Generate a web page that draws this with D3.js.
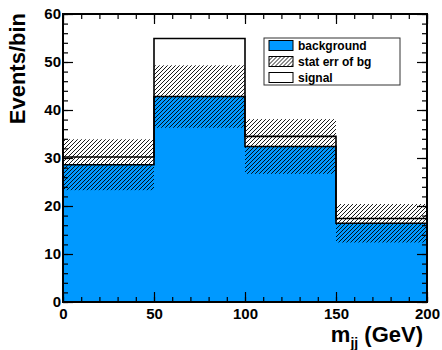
<!DOCTYPE html>
<html>
<head>
<meta charset="utf-8">
<script src="https://cdn.jsdelivr.net/npm/d3@7"></script>
<style>
  body { margin: 0; background: #fff; }
  svg { font-family: "Liberation Sans", Arial, sans-serif; font-weight: bold; }
</style>
</head>
<body>
<script>
var binEdges = [0, 50, 100, 150, 200];
var background = [28.6, 42.8, 32.4, 16.4];
var signal = [1.6, 12.1, 2.1, 1.0];
var bgError = [5.3, 6.5, 5.7, 4.0];
var legendLabels = ["background", "stat err of bg", "signal"];

var W = 442, H = 350;
var margin = {left: 63, right: 15, top: 14, bottom: 48};
var width = W - margin.left - margin.right;
var height = H - margin.top - margin.bottom;
var blue = "#0099ff";

var svg = d3.select("body").append("svg")
    .attr("width", W).attr("height", H);

// hatch pattern, lines like "/"
var defs = svg.append("defs");
defs.append("pattern")
    .attr("id", "hatch")
    .attr("patternUnits", "userSpaceOnUse")
    .attr("width", 4).attr("height", 4)
  .append("path")
    .attr("d", "M-1,1 l2,-2 M0,4 l4,-4 M3,5 l2,-2")
    .attr("stroke", "#000")
    .attr("stroke-width", 0.9);

var g = svg.append("g")
    .attr("transform", "translate(" + margin.left + "," + margin.top + ")");

var x = d3.scaleLinear().domain([0, 200]).range([0, width]);
var y = d3.scaleLinear().domain([0, 60]).range([height, 0]);

var bins = background.map(function(b, i) {
    return {x0: binEdges[i], x1: binEdges[i + 1], bg: b, sig: signal[i], err: bgError[i]};
});

// background fill
g.selectAll("rect.bg").data(bins).enter().append("rect")
    .attr("class", "bg")
    .attr("x", function(d) { return x(d.x0); })
    .attr("width", function(d) { return x(d.x1) - x(d.x0); })
    .attr("y", function(d) { return y(d.bg); })
    .attr("height", function(d) { return y(0) - y(d.bg); })
    .attr("fill", blue);

// stat error band
g.selectAll("rect.err").data(bins).enter().append("rect")
    .attr("class", "err")
    .attr("x", function(d) { return x(d.x0); })
    .attr("width", function(d) { return x(d.x1) - x(d.x0); })
    .attr("y", function(d) { return y(d.bg + d.err); })
    .attr("height", function(d) { return y(d.bg - d.err) - y(d.bg + d.err); })
    .attr("fill", "url(#hatch)");

// step outlines
function steps(val) {
    var pts = [[x(binEdges[0]), y(0)]];
    bins.forEach(function(d) {
        pts.push([x(d.x0), y(val(d))]);
        pts.push([x(d.x1), y(val(d))]);
    });
    pts.push([x(binEdges[binEdges.length - 1]), y(0)]);
    return d3.line()(pts);
}
g.append("path")
    .attr("d", steps(function(d) { return d.bg + d.sig; }))
    .attr("fill", "none").attr("stroke", "#000").attr("stroke-width", 1.6);
g.append("path")
    .attr("d", steps(function(d) { return d.bg; }))
    .attr("fill", "none").attr("stroke", "#000").attr("stroke-width", 1.6);

// axes, ROOT style ticks pointing inward
var yMinor = d3.range(0, 61, 2), yMajor = d3.range(0, 61, 10);
var xMinor = d3.range(0, 201, 10), xMajor = d3.range(0, 201, 50);

function styleAxis(sel) {
    sel.select(".domain").remove();
    sel.selectAll("line").attr("stroke", "#000").attr("stroke-width", 1.2);
    sel.selectAll("text").attr("font-size", 15).attr("font-weight", "bold").attr("fill", "#000");
}

g.append("g").call(d3.axisLeft(y).tickValues(yMinor).tickSize(-5).tickFormat("")).call(styleAxis);
g.append("g").call(d3.axisLeft(y).tickValues(yMajor).tickSize(-10).tickPadding(2)).call(styleAxis);
g.append("g").attr("transform", "translate(" + width + ",0)")
    .call(d3.axisRight(y).tickValues(yMinor).tickSize(-5).tickFormat("")).call(styleAxis);
g.append("g").attr("transform", "translate(" + width + ",0)")
    .call(d3.axisRight(y).tickValues(yMajor).tickSize(-10).tickFormat("")).call(styleAxis);

g.append("g").attr("transform", "translate(0," + height + ")")
    .call(d3.axisBottom(x).tickValues(xMinor).tickSize(-5).tickFormat("")).call(styleAxis);
g.append("g").attr("transform", "translate(0," + height + ")")
    .call(d3.axisBottom(x).tickValues(xMajor).tickSize(-10).tickPadding(6)).call(styleAxis);
g.append("g")
    .call(d3.axisTop(x).tickValues(xMinor).tickSize(-5).tickFormat("")).call(styleAxis);
g.append("g")
    .call(d3.axisTop(x).tickValues(xMajor).tickSize(-10).tickFormat("")).call(styleAxis);

// frame
g.append("rect")
    .attr("width", width).attr("height", height)
    .attr("fill", "none").attr("stroke", "#000").attr("stroke-width", 2);

// axis titles
svg.append("text")
    .attr("transform", "translate(25,13) rotate(-90)")
    .attr("text-anchor", "end")
    .attr("font-size", 22)
    .text("Events/bin");

var xt = svg.append("text")
    .attr("x", margin.left + width - 4)
    .attr("y", 342)
    .attr("text-anchor", "end")
    .attr("font-size", 22);
xt.append("tspan").text("m");
xt.append("tspan").attr("font-size", 14).attr("dy", 6).text("jj");
xt.append("tspan").attr("dy", -6).text(" (GeV)");

// legend
var leg = svg.append("g").attr("transform", "translate(264,38)");
leg.append("rect")
    .attr("width", 136).attr("height", 47)
    .attr("fill", "#fff").attr("stroke", "#333").attr("stroke-width", 1);
var fills = [blue, "url(#hatch)", "#fff"];
legendLabels.forEach(function(label, i) {
    var row = leg.append("g").attr("transform", "translate(0," + (7.5 + i * 16) + ")");
    row.append("rect")
        .attr("x", 5).attr("y", -5)
        .attr("width", 24).attr("height", 10)
        .attr("fill", fills[i])
        .attr("stroke", "#000").attr("stroke-width", 1);
    row.append("text")
        .attr("x", 34).attr("y", 4.5)
        .attr("font-size", 12)
        .text(label);
});
</script>
</body>
</html>
